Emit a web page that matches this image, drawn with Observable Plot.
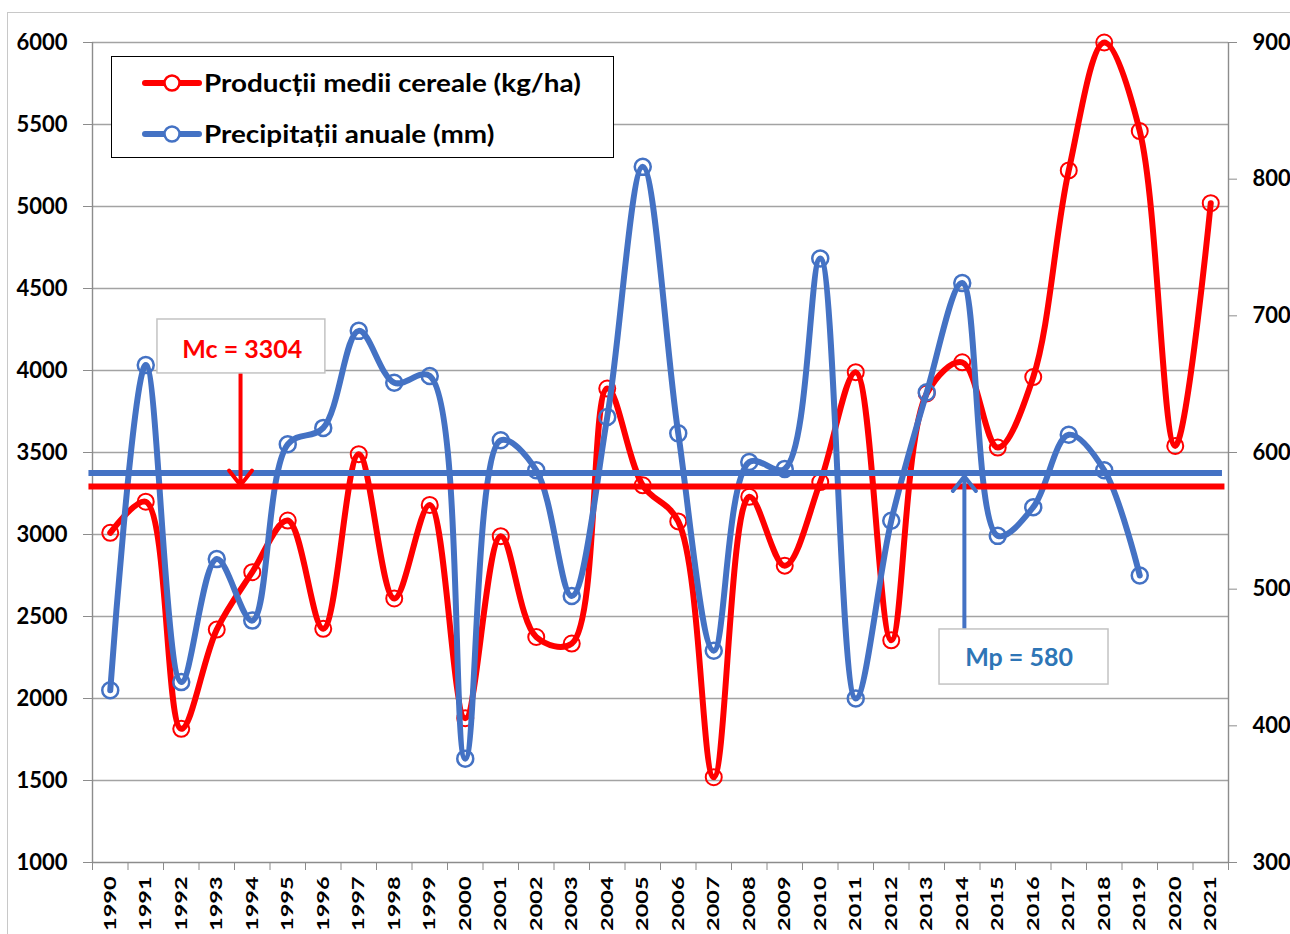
<!DOCTYPE html>
<html><head><meta charset="utf-8">
<script src="https://cdn.jsdelivr.net/npm/d3@7"></script>
<script src="https://cdn.jsdelivr.net/npm/@observablehq/plot@0.6"></script>
<style>
body{margin:0;background:#fff;font-family:Lato,"Open Sans",sans-serif;}
#wrap{position:relative;width:1290px;height:934px;overflow:hidden;background:#fff;}
#wrap svg.plot{position:absolute;left:0;top:0;}
#topline{position:absolute;left:7px;top:12px;width:1283px;height:1px;background:#c8c8c8;}
#leftline{position:absolute;left:7px;top:12px;width:1px;height:922px;background:#c8c8c8;}
#legend{position:absolute;left:111px;top:56px;width:503px;height:102px;border:1.5px solid #000;background:#fff;box-sizing:border-box;}
.item{position:absolute;left:0;height:30px;width:500px;}
.item svg{position:absolute;left:30px;top:0;}
.item span{position:absolute;left:92px;top:0;line-height:30px;font-size:24px;font-weight:bold;color:#000;white-space:nowrap;transform:scaleX(1.16);transform-origin:0 50%;}
</style>
</head><body>
<div id="wrap"><div id="topline"></div><div id="leftline"></div></div>
<script>
// ---- data ----
const years = [1990,1991,1992,1993,1994,1995,1996,1997,1998,1999,2000,2001,2002,2003,2004,2005,2006,2007,2008,2009,2010,2011,2012,2013,2014,2015,2016,2017,2018,2019,2020,2021];
const production = [3010,3200,1815,2420,2770,3085,2425,3490,2610,3180,1880,2990,2375,2335,3890,3300,3080,1520,3230,2810,3320,3990,2355,3860,4050,3530,3960,5220,6000,5460,3540,5020];
const precipitation = [426,664,432,522,477,606,618,689,651,656,376,609,587,495,626,809,614,455,593,588,742,420,550,644,724,539,560,613,587,510,null,null];
const leftTicks = [1000,1500,2000,2500,3000,3500,4000,4500,5000,5500,6000];
const rightTicks = [300,400,500,600,700,800,900];
const seriesNames = ["Producții medii cereale (kg/ha)", "Precipitații anuale (mm)"];
const meanProduction = 3304;   // label value
const meanPrecip = 580;        // label value
const meanProductionDrawn = 3292; // level of red line
const meanPrecipDrawn = 585;      // level of blue line

// ---- setup ----
const RED = "#ff0000", BLUE = "#4472c4", MPBLUE = "#2e75b6";
const leftDom = [leftTicks[0], leftTicks[leftTicks.length-1]];
const rightDom = [rightTicks[0], rightTicks[rightTicks.length-1]];
const toLeft = v => leftDom[0] + (v - rightDom[0]) * (leftDom[1]-leftDom[0]) / (rightDom[1]-rightDom[0]);
const toRight = v => rightDom[0] + (v - leftDom[0]) * (rightDom[1]-rightDom[0]) / (leftDom[1]-leftDom[0]);
const xmin = years[0] - 0.5, xmax = years[years.length-1] + 0.5;

const prodRows = years.map((y,i) => ({year:y, v:production[i]}));
const precRows = years.map((y,i) => ({year:y, v:precipitation[i]})).filter(d => d.v != null);
const bounds = d3.range(years.length + 1).map(i => xmin + i);

const chart = Plot.plot({
  width: 1290, height: 934,
  marginLeft: 92, marginRight: 62, marginTop: 42, marginBottom: 72,
  x: {domain: [xmin, xmax]},
  y: {domain: leftDom},
  style: {fontFamily: "Lato, 'Open Sans', sans-serif", background: "transparent", overflow: "visible"},
  marks: [
    Plot.ruleY(leftTicks.slice(1), {x1: xmin, x2: xmax, stroke: "#a3a3a3", strokeWidth: 1.4}),
    Plot.ruleY([leftDom[0]], {x1: xmin, x2: xmax, stroke: "#8c8c8c", strokeWidth: 1.4}),
    Plot.ruleX([xmin, xmax], {y1: leftDom[0], y2: leftDom[1], stroke: "#8c8c8c", strokeWidth: 1.4}),
    Plot.axisY(leftTicks, {anchor: "left", tickSize: 9, tickPadding: 16, stroke: "#8c8c8c", fill: "#000",
      fontSize: 22, fontWeight: "bold", label: null, tickFormat: d => String(d)}),
    Plot.axisY(rightTicks.map(toLeft), {anchor: "right", tickSize: 8, tickPadding: 16, stroke: "#8c8c8c", fill: "#000",
      fontSize: 22, fontWeight: "bold", label: null, tickFormat: d => String(Math.round(toRight(d)))}),
    Plot.axisX(bounds, {anchor: "bottom", tickSize: 8, stroke: "#8c8c8c", tickFormat: () => "", label: null}),
    Plot.axisX(years, {anchor: "bottom", tickSize: 0, tickPadding: 14, tickRotate: -90, fill: "#000",
      fontSize: 17, fontWeight: "bold", label: null, tickFormat: d => String(d)}),
    // production series
    Plot.line(prodRows, {x: "year", y: "v", stroke: RED, strokeWidth: 6, curve: "catmull-rom"}),
    Plot.dot(prodRows, {x: "year", y: "v", r: 8, stroke: RED, strokeWidth: 2, fill: "none"}),
    // precipitation series
    Plot.line(precRows, {x: "year", y: d => toLeft(d.v), stroke: BLUE, strokeWidth: 6, curve: "catmull-rom"}),
    Plot.dot(precRows, {x: "year", y: d => toLeft(d.v), r: 8, stroke: BLUE, strokeWidth: 2.5, fill: "none"}),
    // mean lines
    Plot.ruleY([toLeft(meanPrecipDrawn)], {x1: xmin - 0.1, x2: xmax - 0.17, stroke: BLUE, strokeWidth: 6}),
    Plot.ruleY([meanProductionDrawn], {x1: xmin - 0.1, x2: xmax - 0.1, stroke: RED, strokeWidth: 6}),
    // Mc annotation
    Plot.arrow([0], {x1: 1993.67, y1: 3982, x2: 1993.67, y2: meanProductionDrawn + 8, stroke: RED, strokeWidth: 4, headLength: 7, headAngle: 76}),
    Plot.rect([0], {x1: 1991.33, x2: 1996.06, y1: 3982, y2: 4311, fill: "white", stroke: "#c3c3c3", strokeWidth: 1.5}),
    Plot.text([`Mc = ${meanProduction}`], {x: 1993.72, y: 4128, text: d => d, fill: RED, fontSize: 25, fontWeight: "bold"}),
    // Mp annotation
    Plot.arrow([0], {x1: 2014.06, y1: 2427, x2: 2014.06, y2: toLeft(meanPrecipDrawn) - 20, stroke: BLUE, strokeWidth: 4, headLength: 7, headAngle: 76}),
    Plot.rect([0], {x1: 2013.36, x2: 2018.12, y1: 2085, y2: 2421, fill: "white", stroke: "#c3c3c3", strokeWidth: 1.5}),
    Plot.text([`Mp = ${meanPrecip}`], {x: 2015.6, y: 2245, text: d => d, fill: MPBLUE, fontSize: 25, fontWeight: "bold"})
  ]
});
// widen the rotated year labels along their text direction, as in the original
chart.querySelectorAll('g[aria-label="x-axis tick label"] text').forEach(t => {
  if (t.textContent.trim() !== "") t.setAttribute("transform", (t.getAttribute("transform") || "") + " scale(1.38,1)");
});
const wrap = document.getElementById("wrap");
wrap.appendChild(chart);

// legend (inside the plot area, as in the original)
const legend = document.createElement("div");
legend.id = "legend";
[[RED, 11], [BLUE, 62]].forEach(([c, top], i) => {
  const it = document.createElement("div");
  it.className = "item";
  it.style.top = top + "px";
  it.innerHTML = `<svg width="60" height="30"><line x1="3" x2="57" y1="15" y2="15" stroke="${c}" stroke-width="6" stroke-linecap="round"/><circle cx="30" cy="15" r="7.5" fill="white" stroke="${c}" stroke-width="2.5"/></svg><span>${seriesNames[i]}</span>`;
  legend.appendChild(it);
});
wrap.appendChild(legend);
</script>
</body></html>
